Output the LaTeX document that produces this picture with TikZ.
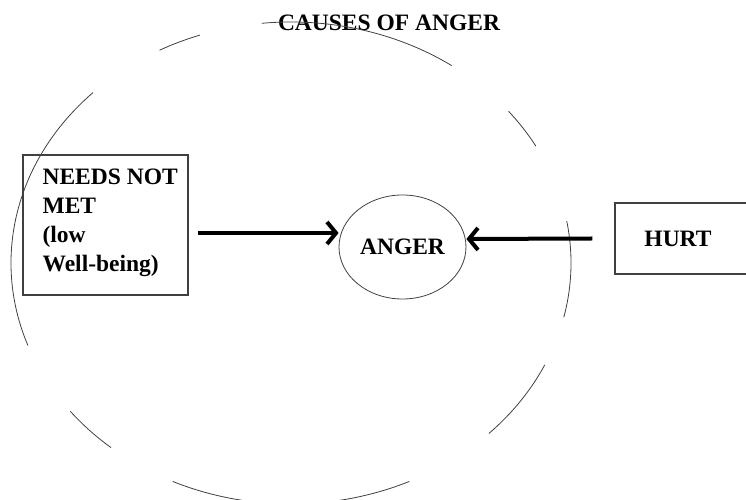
\documentclass[tikz,border=0pt]{standalone}
\usepackage{fontspec}
\setmainfont{Liberation Serif}
\usetikzlibrary{arrows.meta,shapes.geometric}

\begin{document}
\begin{tikzpicture}[
    x=1pt, y=1pt,
    every node/.style={font=\fontsize{23.5}{29}\selectfont\bfseries},
    ring/.style={draw=black!75, line width=0.8pt},
    box/.style={draw=black!75, line width=1.2pt, minimum height=140pt},
    txt/.style={align=left, inner sep=0pt},
    oval/.style={ellipse, draw=black!75, line width=0.8pt, minimum width=127pt, minimum height=104pt, inner sep=0pt},
    arr/.style={-{Straight Barb[length=9pt,width=22pt]}, line width=4pt}
]
\useasboundingbox (0,0) rectangle (746,500);

% Title
\node (title) at (389, 477.5) {CAUSES OF ANGER};

% Big broken ring
\coordinate (o) at (291, 237);
\draw[ring] (o) ++(96:280 and 241) arc[start angle=96, end angle=55, x radius=280, y radius=241];
\draw[ring] (o) ++(39:280 and 241) arc[start angle=39, end angle=29, x radius=280, y radius=241];
\draw[ring] (o) ++(10:280 and 241) arc[start angle=10, end angle=-13, x radius=280, y radius=241];
\draw[ring] (o) ++(-25:280 and 241) arc[start angle=-25, end angle=-45, x radius=280, y radius=241];
\draw[ring] (o) ++(-65:280 and 241) arc[start angle=-65, end angle=-82, x radius=280, y radius=241];
\draw[ring] (o) ++(-100:280 and 241) arc[start angle=-100, end angle=-115, x radius=280, y radius=241];
\draw[ring] (o) ++(-130:280 and 241) arc[start angle=-130, end angle=-142, x radius=280, y radius=241];
\draw[ring] (o) ++(135:280 and 241) arc[start angle=135, end angle=200, x radius=280, y radius=241];
\draw[ring] (o) ++(109:280 and 241) arc[start angle=109, end angle=118, x radius=280, y radius=241];

% Left cause
\node[box, minimum width=165pt] (needs) at (105.5, 275) {};
\node[txt, anchor=west] (needstext) at ([xshift=20pt,yshift=2pt]needs.west) {NEEDS NOT\\MET\\(low\\Well-being)};

% Centre
\node[oval] (anger) at (402.5, 253) {ANGER};

% Right cause
\node[box, minimum width=140pt, minimum height=71pt] (hurt) at (685, 261.5) {};
\node[txt] (hurttext) at ([xshift=-7pt]hurt.center) {HURT};

% Arrows
\draw[arr] ([xshift=9pt,yshift=-8pt]needs.east) -- ([yshift=14pt]anger.west);
\draw[arr] ([xshift=-22pt]hurt.west) -- ([yshift=8pt]anger.east);
\end{tikzpicture}
\end{document}
